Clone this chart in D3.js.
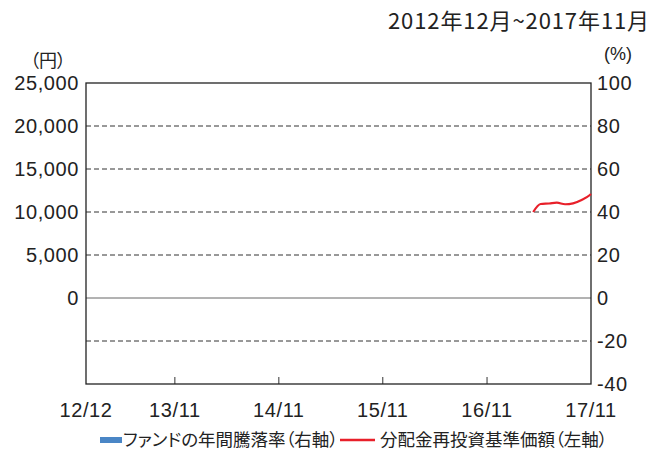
<!DOCTYPE html>
<html>
<head>
<meta charset="utf-8">
<script src="https://cdn.jsdelivr.net/npm/d3@7"></script>
<style>
  body { margin: 0; background: #fff; }
  svg text { font-family: "Liberation Sans", Arial, "Noto Sans CJK JP", sans-serif; fill: #222; }
  .jp { font-family: "Noto Sans CJK JP", sans-serif; font-feature-settings: "palt"; }
</style>
</head>
<body>
<div id="chart"></div>
<script>
var width = 654;
var height = 453;

// 分配金再投資基準価額 (円)
var navDates = ["2017-04-12", "2017-05-08", "2017-06-07", "2017-07-04", "2017-08-02", "2017-08-30", "2017-09-29", "2017-10-28", "2017-11-01"];
var navValues = [10000, 10930, 10990, 11080, 10900, 11010, 11400, 11980, 12100];

// x axis
var xTickDates = ["2012-12-24", "2013-11-01", "2014-11-01", "2015-11-01", "2016-11-01", "2017-11-01"];
var xTickLabels = ["12/12", "13/11", "14/11", "15/11", "16/11", "17/11"];

// y axes
var leftTicks = [0, 5000, 10000, 15000, 20000, 25000];
var rightTicks = [-40, -20, 0, 20, 40, 60, 80, 100];

var legendLabels = ["ファンドの年間騰落率（右軸）", "分配金再投資基準価額（左軸）"];
var legendColors = ["#4a86c6", "#e8202a"];

var parse = d3.timeParse("%Y-%m-%d");

var svg = d3.select("#chart")
  .append("svg")
  .attr("width", width)
  .attr("height", height);

var x = d3.scaleTime()
  .domain([parse(xTickDates[0]), parse(xTickDates[xTickDates.length - 1])])
  .range([86, 591]);

var yLeft = d3.scaleLinear().domain([-10000, 25000]).range([384, 83]);
var yRight = d3.scaleLinear().domain([-40, 100]).range([384, 83]);

// gridlines
svg.append("g")
  .selectAll("line")
  .data(rightTicks.filter(function(d){ return d > -40 && d < 100; }))
  .enter()
  .append("line")
  .attr("x1", 86).attr("x2", 591)
  .attr("y1", function(d){ return yRight(d); })
  .attr("y2", function(d){ return yRight(d); })
  .attr("stroke", function(d){ return d === 0 ? "#666" : "#333"; })
  .attr("stroke-width", 1)
  .attr("stroke-dasharray", function(d){ return d === 0 ? null : "5,3"; });

// bottom ticks
svg.append("g")
  .selectAll("line")
  .data(xTickDates.slice(1, -1))
  .enter()
  .append("line")
  .attr("x1", function(d){ return x(parse(d)); })
  .attr("x2", function(d){ return x(parse(d)); })
  .attr("y1", 384).attr("y2", 377)
  .attr("stroke", "#333");

// frame
svg.append("rect")
  .attr("x", 86).attr("y", 83)
  .attr("width", 505).attr("height", 301)
  .attr("fill", "none")
  .attr("stroke", "#222")
  .attr("stroke-width", 1.3);

// line
var line = d3.line()
  .x(function(d, i){ return x(parse(navDates[i])); })
  .y(function(d){ return yLeft(d); })
  .curve(d3.curveMonotoneX);

svg.append("path")
  .datum(navValues)
  .attr("d", line)
  .attr("fill", "none")
  .attr("stroke", legendColors[1])
  .attr("stroke-width", 2.2);

// left labels
svg.append("g")
  .selectAll("text")
  .data(leftTicks)
  .enter()
  .append("text")
  .attr("x", 79)
  .attr("y", function(d){ return yLeft(d); })
  .attr("dy", "0.36em")
  .attr("text-anchor", "end")
  .attr("font-size", 20)
  .attr("letter-spacing", 0.6)
  .text(function(d){ return d3.format(",")(d); });

// right labels
svg.append("g")
  .selectAll("text")
  .data(rightTicks)
  .enter()
  .append("text")
  .attr("x", 597)
  .attr("y", function(d){ return yRight(d); })
  .attr("dy", "0.36em")
  .attr("font-size", 20)
  .attr("letter-spacing", 0.6)
  .text(function(d){ return d; });

// bottom labels
svg.append("g")
  .selectAll("text")
  .data(xTickDates)
  .enter()
  .append("text")
  .attr("x", function(d){ return x(parse(d)); })
  .attr("y", 417)
  .attr("text-anchor", "middle")
  .attr("font-size", 20)
  .attr("letter-spacing", 0.6)
  .text(function(d, i){ return xTickLabels[i]; });

// units & title
svg.append("text").attr("class", "jp")
  .attr("x", 48).attr("y", 67).attr("text-anchor", "middle")
  .attr("font-size", 18).text("（円）");
svg.append("text")
  .attr("x", 618).attr("y", 60).attr("text-anchor", "middle")
  .attr("font-size", 18).text("(%)");
svg.append("text").attr("class", "jp")
  .attr("x", 650).attr("y", 29).attr("text-anchor", "end")
  .attr("font-size", 22).attr("letter-spacing", 0.9)
  .text("2012年12月~2017年11月");

// legend
var lg = svg.append("g");
lg.append("rect")
  .attr("x", 100).attr("y", 437).attr("width", 22).attr("height", 6)
  .attr("fill", legendColors[0]);
lg.append("text").attr("class", "jp")
  .attr("x", 123).attr("y", 446).attr("font-size", 17.5)
  .text(legendLabels[0]);
lg.append("line")
  .attr("x1", 340).attr("x2", 375).attr("y1", 440).attr("y2", 440)
  .attr("stroke", legendColors[1]).attr("stroke-width", 2.5);
lg.append("text").attr("class", "jp")
  .attr("x", 380).attr("y", 446).attr("font-size", 17.5)
  .text(legendLabels[1]);
</script>
</body>
</html>
